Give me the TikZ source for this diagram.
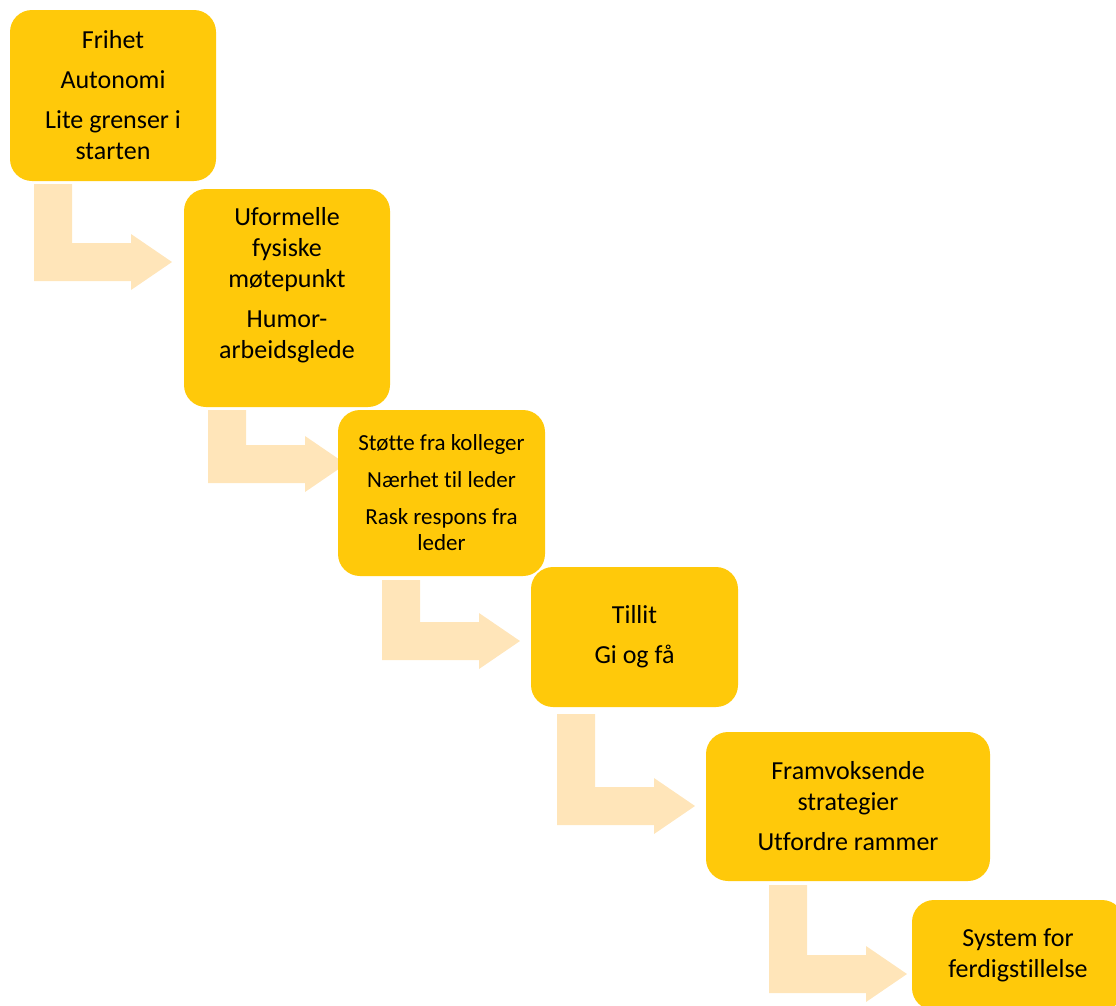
\documentclass[tikz,border=0pt]{standalone}
\usepackage{fontspec}
\setmainfont{Carlito}[Ligatures=NoCommon]

\definecolor{stagegold}{HTML}{FFC90A}
\definecolor{flowtint}{HTML}{FFE5B9}

\begin{document}
\begin{tikzpicture}[x=1pt,y=-1pt,
    stage/.style={fill=stagegold,rounded corners=22pt,align=center,inner sep=0pt,
                  font=\fontsize{26}{31}\selectfont},
    flow/.style={fill=flowtint}]
    \useasboundingbox (0,0) rectangle (1116,1005);
    \clip (0,0) rectangle (1116,1005);
    % bent arrows: left edge, top, height of the stem
    \foreach \x/\y/\h in {34/184/97,208/410/73,382/580/80,557/714/111,769/885/108}{
      \fill [flow] (\x,\y) -- ++(38,0) -- ++(0,\h-38) -- ++(59,0) -- ++(0,-9)
        -- ++(41,28) -- ++(-41,28) -- ++(0,-9) -- ++(-97,0) -- cycle;
    }
    \node [stage,minimum width=206pt,minimum height=171pt] (frihet) at (113,95.5)
      {Frihet\\[9pt]Autonomi\\[9pt]Lite grenser i\\starten};
    \node [stage,minimum width=206pt,minimum height=218pt] (uformelle) at (287,298)
      {Uformelle\\fysiske\\møtepunkt\\[9pt]Humor-\\arbeidsglede\\\mbox{}};
    \node [stage,minimum width=207pt,minimum height=166pt,
           font=\fontsize{23}{26}\selectfont] (stotte) at (441.5,493)
      {Støtte fra kolleger\\[11pt]Nærhet til leder\\[11pt]Rask respons fra\\leder};
    \node [stage,minimum width=207pt,minimum height=140pt] (tillit) at (634.5,637)
      {Tillit\\[9pt]Gi og få};
    \node [stage,minimum width=284pt,minimum height=149pt] (framvoksende) at (848,806.5)
      {Framvoksende\\strategier\\[9pt]Utfordre rammer};
    \node [stage,minimum width=212pt,minimum height=110pt] (system) at (1018,955)
      {System for\\ferdigstillelse};
\end{tikzpicture}
\end{document}
